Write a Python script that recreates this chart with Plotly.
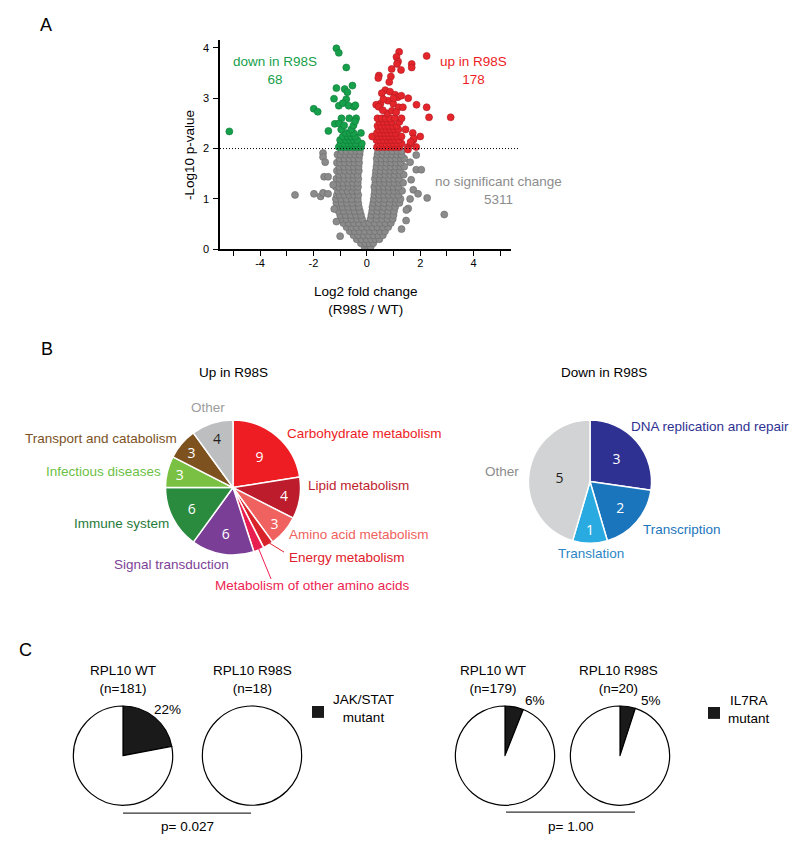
import plotly.graph_objects as go

W, H = 800, 841
FONT = "Liberation Sans, Arial, sans-serif"

# ---------------- panel A: volcano ----------------
# grey cloud (no significant change), read row by row: y level -> x values
gray_levels = [0.04, 0.12, 0.20, 0.28, 0.36, 0.44, 0.52, 0.60, 0.68, 0.76, 0.84,
               0.92, 1.00, 1.08, 1.16, 1.24, 1.32, 1.40, 1.48, 1.56, 1.64, 1.72,
               1.80, 1.88, 1.95]
gray_rows = [
    [-0.08, 0.05, 0.14],
    [-0.22, -0.05, 0.1, 0.24],
    [-0.38, -0.2, -0.02, 0.16, 0.33, 0.47],
    [-0.5, -0.32, -0.12, 0.06, 0.25, 0.43, 0.6],
    [-0.64, -0.45, -0.27, -0.08, 0.12, 0.3, 0.5, 0.68],
    [-0.76, -0.57, -0.38, -0.18, 0.02, 0.21, 0.4, 0.6, 0.8],
    [-0.88, -0.68, -0.48, -0.3, -0.1, 0.09, 0.3, 0.5, 0.7, 0.9],
    [-0.96, -0.77, -0.57, -0.37, -0.18, 0.14, 0.36, 0.57, 0.77, 0.97],
    [-1.0, -0.8, -0.6, -0.4, -0.22, 0.17, 0.37, 0.58, 0.79, 1.0],
    [-1.06, -0.86, -0.66, -0.46, -0.26, 0.2, 0.4, 0.6, 0.8, 1.02],
    [-1.1, -0.9, -0.7, -0.5, -0.3, 0.21, 0.42, 0.63, 0.84, 1.06],
    [-1.14, -0.94, -0.74, -0.54, -0.32, 0.24, 0.44, 0.65, 0.86, 1.08, 1.22],
    [-1.16, -0.96, -0.76, -0.56, -0.34, 0.26, 0.46, 0.67, 0.88, 1.1, 1.26],
    [-1.12, -1.02, -0.84, -0.66, -0.48, -0.32, 0.28, 0.46, 0.64, 0.82, 1.0, 1.18],
    [-1.08, -0.9, -0.72, -0.54, -0.36, 0.3, 0.48, 0.66, 0.84, 1.02, 1.2, 1.32],
    [-1.16, -1.04, -0.86, -0.68, -0.5, -0.33, 0.28, 0.46, 0.64, 0.82, 1.0, 1.18],
    [-1.06, -0.88, -0.7, -0.52, -0.34, 0.32, 0.5, 0.68, 0.86, 1.04, 1.22, 1.36],
    [-1.14, -1.02, -0.84, -0.66, -0.48, -0.32, 0.3, 0.48, 0.66, 0.84, 1.02, 1.2],
    [-1.04, -0.86, -0.68, -0.5, -0.34, 0.33, 0.51, 0.69, 0.87, 1.05, 1.23, 1.38],
    [-1.12, -1.0, -0.82, -0.64, -0.46, -0.3, 0.34, 0.52, 0.7, 0.88, 1.06, 1.24],
    [-1.03, -0.85, -0.67, -0.49, -0.31, 0.36, 0.54, 0.72, 0.9, 1.08, 1.26, 1.4],
    [-1.12, -1.0, -0.82, -0.64, -0.46, -0.29, 0.38, 0.56, 0.74, 0.92, 1.1, 1.27],
    [-1.02, -0.84, -0.66, -0.48, -0.3, 0.37, 0.55, 0.73, 0.91, 1.09, 1.28, 1.4],
    [-1.1, -0.98, -0.8, -0.62, -0.44, -0.27, 0.4, 0.58, 0.76, 0.94, 1.12, 1.3],
    [-0.94, -0.76, -0.58, -0.4, -0.26, 0.42, 0.6, 0.78, 0.96, 1.14, 1.3],
]
gray_out_x = [-2.69, -1.98, -1.73, -1.64, -1.45, -1.64, -1.64, -1.56, -1.6, -1.45,
              -1.26, -1.22, -1.0, -1.14, 1.85, 1.62, 1.85, 2.04, 1.66, 1.74, 1.92,
              2.26, 1.62, 1.55, 1.48, 1.47, 2.9, 1.3]
gray_out_y = [1.08, 1.1, 1.05, 1.12, 1.1, 1.91, 1.83, 1.73, 1.44, 1.44,
              1.28, 0.8, 0.26, 0.55, 1.87, 1.73, 1.58, 1.58, 1.38, 1.18, 1.1,
              1.02, 1.0, 0.81, 0.78, 0.57, 0.69, 0.4]

# green: down in R98S
green_levels = [2.03, 2.10, 2.17, 2.24, 2.31, 2.38]
green_rows = [
    [-1.05, -0.9, -0.76, -0.62, -0.48, -0.34, -0.22],
    [-0.98, -0.84, -0.7, -0.56, -0.42, -0.19],
    [-1.0, -0.78, -0.64, -0.5, -0.36],
    [-0.9, -0.72, -0.58, -0.44],
    [-0.8, -0.64, -0.5, -0.22],
    [-0.96, -0.58],
]
green_out_x = [-1.14, -1.05, -0.77, -1.14, -0.83, -0.73, -0.54, -1.23, -0.77, -1.05,
               -0.9, -0.68, -0.48, -0.43, -0.95, -0.66, -0.4, -1.2, -1.04, -0.85,
               -0.5, -0.44, -1.44, -5.15, -1.99, -1.84]
green_out_y = [3.99, 3.9, 3.61, 3.2, 3.18, 3.12, 3.25, 2.99, 2.98, 2.85,
               2.9, 2.85, 2.83, 2.86, 2.6, 2.6, 2.6, 2.49, 2.5, 2.46,
               2.46, 2.54, 2.35, 2.34, 2.79, 2.73]

# red: up in R98S
red_levels = [2.03, 2.10, 2.17, 2.24, 2.31, 2.38, 2.45, 2.53, 2.60]
red_rows = [
    [0.38, 0.52, 0.66, 0.8, 0.94, 1.08, 1.22, 1.54, 1.85],
    [0.45, 0.59, 0.73, 0.87, 1.01, 1.15, 1.3, 1.66],
    [0.36, 0.5, 0.64, 0.78, 0.92, 1.06, 1.2, 1.74],
    [0.2, 0.43, 0.57, 0.71, 0.85, 0.99, 1.13, 1.3, 2.0],
    [0.38, 0.52, 0.66, 0.8, 0.94, 1.08, 1.72],
    [0.45, 0.6, 0.74, 0.88, 1.02, 1.18, 1.45],
    [0.4, 0.54, 0.68, 0.82, 0.98, 1.12],
    [0.48, 0.62, 0.78, 0.92, 1.22],
    [0.4, 0.56, 0.7, 0.86, 1.05, 1.3],
]
red_out_x = [1.21, 1.11, 1.17, 1.13, 2.24, 1.68, 1.68, 1.28, 0.93, 0.45, 0.43, 0.9,
             0.84, 0.69, 0.56, 0.87, 1.06, 1.16, 1.29, 1.55, 0.51, 0.35, 0.44, 0.79,
             0.99, 1.19, 1.35, 1.86, 2.24, 2.33, 3.14, 0.76, 0.94, 1.1, 0.62, 1.0,
             0.6, 1.76, 1.64, 1.54]
red_out_y = [3.92, 3.82, 3.73, 3.68, 3.84, 3.68, 3.61, 3.56, 3.58, 3.45, 3.4, 3.43,
             3.32, 3.16, 3.1, 3.13, 3.07, 3.02, 3.05, 3.0, 2.89, 2.87, 2.83, 2.95,
             2.89, 2.82, 2.82, 2.87, 2.82, 2.62, 2.62, 2.7, 2.75, 2.72, 2.98, 3.0,
             2.76, 2.2, 2.13, 1.98]

x_ticks = [-5, -4, -3, -2, -1, 0, 1, 2, 3, 4, 5]
x_ticktext = ["", "-4", "", "-2", "", "0", "", "2", "", "4", ""]
y_ticks = [0, 1, 2, 3, 4]

# ---------------- panel B: pathway pies ----------------
up_labels = ["Carbohydrate metabolism", "Lipid metabolism", "Amino acid metabolism",
             "Energy metabolism", "Metabolism of other amino acids",
             "Signal transduction", "Immune system", "Infectious diseases",
             "Transport and catabolism", "Other"]
up_counts = [9, 4, 3, 1, 1, 6, 6, 3, 3, 4]
up_colors = ["#ee1d23", "#bc1c2c", "#f0625f", "#d8232a", "#e91e50",
             "#7b3e97", "#2a8b3f", "#7ac143", "#7d521f", "#bdbec0"]

down_labels = ["DNA replication and repair", "Transcription", "Translation", "Other"]
down_counts = [3, 2, 1, 5]
down_colors = ["#2e3192", "#1b75bc", "#29abe2", "#d1d3d4"]

# ---------------- panel C: mutation frequency pies ----------------
mut_labels = ["mutant", "not mutant"]
jak_wt = [22, 78]
jak_r98s = [0, 100]
il7_wt = [6, 94]
il7_r98s = [5, 95]


def flatten(levels, rows, ox, oy):
    xs, ys = [], []
    for lv, row in zip(levels, rows):
        xs += row
        ys += [lv] * len(row)
    return xs + ox, ys + oy


def px(X):
    return X / W


def py(Y):
    return 1 - Y / H


def note(text, X, Y, color="black", size=13.5, xanchor="center", **kw):
    return dict(x=px(X), y=py(Y), xref="paper", yref="paper", text=text,
                showarrow=False, xanchor=xanchor, yanchor="middle",
                font=dict(family=FONT, size=size, color=color), **kw)


def pie_domain(cx, cy, r):
    return dict(x=[px(cx - r), px(cx + r)], y=[py(cy + r), py(cy - r)])


fig = go.Figure()

for (lv, rows, ox, oy), fill, edge in [
    ((gray_levels, gray_rows, gray_out_x, gray_out_y), "#8b8b8b", "#6a6a6a"),
    ((green_levels, green_rows, green_out_x, green_out_y), "#17a04b", "#0d7a37"),
    ((red_levels, red_rows, red_out_x, red_out_y), "#e4252b", "#b01b20"),
]:
    xs, ys = flatten(lv, rows, ox, oy)
    fig.add_trace(go.Scatter(
        x=xs, y=ys, mode="markers", showlegend=False, hoverinfo="x+y",
        marker=dict(size=7, color=fill, line=dict(color=edge, width=0.6)),
    ))

up_text = [str(v) if v > 1 else "" for v in up_counts]
up_text_colors = ["white"] * 9 + ["#231f20"]
fig.add_trace(go.Pie(
    values=up_counts, labels=up_labels, text=up_text, textinfo="text",
    textposition="inside", insidetextorientation="horizontal",
    textfont=dict(family="Open Sans", size=14, color=up_text_colors),
    marker=dict(colors=up_colors, line=dict(color="white", width=1.5)),
    sort=False, direction="clockwise", rotation=0, showlegend=False,
    domain=pie_domain(225, 483, 68), hoverinfo="label+value",
))
fig.add_trace(go.Pie(
    values=down_counts, labels=down_labels, text=[str(v) for v in down_counts],
    textinfo="text", textposition="inside", insidetextorientation="horizontal",
    textfont=dict(family="Open Sans", size=14,
                  color=["white", "white", "white", "#231f20"]),
    marker=dict(colors=down_colors, line=dict(color="white", width=1.5)),
    sort=False, direction="clockwise", rotation=0, showlegend=False,
    domain=pie_domain(582, 477, 62), hoverinfo="label+value",
))

for vals, cx in [(jak_wt, 115), (jak_r98s, 244), (il7_wt, 497), (il7_r98s, 612)]:
    fig.add_trace(go.Pie(
        values=vals, labels=mut_labels, textinfo="none",
        marker=dict(colors=["#1a1a1a", "white"], line=dict(color="black", width=1.2)),
        sort=False, direction="clockwise", rotation=0, showlegend=False,
        domain=pie_domain(cx, 753, 50), hoverinfo="label+value",
    ))

axis_common = dict(showline=True, linecolor="black", linewidth=1.5, ticks="outside",
                   ticklen=5, tickwidth=1.2, tickcolor="black", showgrid=False,
                   zeroline=False, tickfont=dict(family=FONT, size=11, color="black"))

fig.update_layout(
    width=W, height=H, margin=dict(l=0, r=0, t=0, b=0),
    paper_bgcolor="white", plot_bgcolor="white",
    xaxis=dict(domain=[px(212), px(503)], range=[-5.5, 5.4], tickmode="array",
               tickvals=x_ticks, ticktext=x_ticktext, anchor="y",
               ticklabelstandoff=-2, **axis_common),
    yaxis=dict(domain=[py(243), py(32)], range=[0, 4.16], tickmode="array",
               tickvals=y_ticks, anchor="x", ticklabelstandoff=2, **axis_common),
)

shapes = [
    dict(type="line", xref="paper", yref="y", x0=px(212), x1=px(510), y0=2, y1=2,
         line=dict(color="black", width=1, dash="1px,2px")),
    dict(type="line", xref="paper", yref="paper", x0=px(260), y0=py(538),
         x1=px(276), y1=py(548), line=dict(color="#e0202a", width=1)),
    dict(type="line", xref="paper", yref="paper", x0=px(250), y0=py(543),
         x1=px(263), y1=py(575), line=dict(color="#ec1f52", width=1)),
    dict(type="line", xref="paper", yref="paper", x0=px(115), x1=px(243),
         y0=py(811), y1=py(811), line=dict(color="#333333", width=1.2)),
    dict(type="line", xref="paper", yref="paper", x0=px(498), x1=px(627),
         y0=py(810), y1=py(810), line=dict(color="#333333", width=1.2)),
    dict(type="rect", xref="paper", yref="paper", x0=px(304), x1=px(316),
         y0=py(715), y1=py(703), fillcolor="#1a1a1a", line=dict(width=0)),
    dict(type="rect", xref="paper", yref="paper", x0=px(700), x1=px(712),
         y0=py(716), y1=py(704), fillcolor="#1a1a1a", line=dict(width=0)),
]

annotations = [
    note("A", 38, 17, size=18),
    note("down in R98S<br>68", 267, 63, color="#17a04b"),
    note("up in R98S<br>178", 465, 63, color="#ed1c24"),
    note("no significant change<br>5311", 490, 184, color="#8c8c8c"),
    note("-Log10 p-value", 182, 148, textangle=-90),
    note("Log2 fold change<br>(R98S / WT)", 358, 295),
    note("B", 39, 343, size=18),
    note("Up in R98S", 225, 367),
    note("Down in R98S", 596, 367),
    note("Other", 200, 402, color="#9d9d9d"),
    note("Transport and catabolism", 171, 434, color="#7b521e", xanchor="right"),
    note("Infectious diseases", 155, 467, color="#6cbf45", xanchor="right"),
    note("Immune system", 163, 519, color="#1f7a3a", xanchor="right"),
    note("Signal transduction", 104, 561, color="#7d3f98", xanchor="left"),
    note("Carbohydrate metabolism", 277, 429, color="#ed1c24", xanchor="left"),
    note("Lipid metabolism", 298, 481, color="#be1e2d", xanchor="left"),
    note("Amino acid metabolism", 279, 530, color="#f0625d", xanchor="left"),
    note("Energy metabolism", 279, 553, color="#e0202a", xanchor="left"),
    note("Metabolism of other amino acids", 205, 582, color="#ec1f52", xanchor="left"),
    note("DNA replication and repair", 621, 422, color="#2e3192", xanchor="left"),
    note("Transcription", 633, 525, color="#1b75bc", xanchor="left"),
    note("Translation", 548, 549, color="#2b85c6", xanchor="left"),
    note("Other", 513, 467, color="#8c8c8c", xanchor="right"),
    note("C", 17, 647, size=18),
    note("RPL10 WT<br>(n=181)", 115, 676),
    note("RPL10 R98S<br>(n=18)", 244, 676),
    note(f"{jak_wt[0]}%", 159, 707),
    note("JAK/STAT<br>mutant", 323, 706, xanchor="left"),
    note("p= 0.027", 179, 824),
    note("RPL10 WT<br>(n=179)", 485, 676),
    note("RPL10 R98S<br>(n=20)", 610, 676),
    note(f"{il7_wt[0]}%", 527, 697),
    note(f"{il7_r98s[0]}%", 643, 697),
    note("IL7RA<br>mutant", 718, 707, xanchor="left"),
    note("p= 1.00", 562, 824),
]

fig.update_layout(shapes=shapes, annotations=annotations)

fig.write_html("out.html")
